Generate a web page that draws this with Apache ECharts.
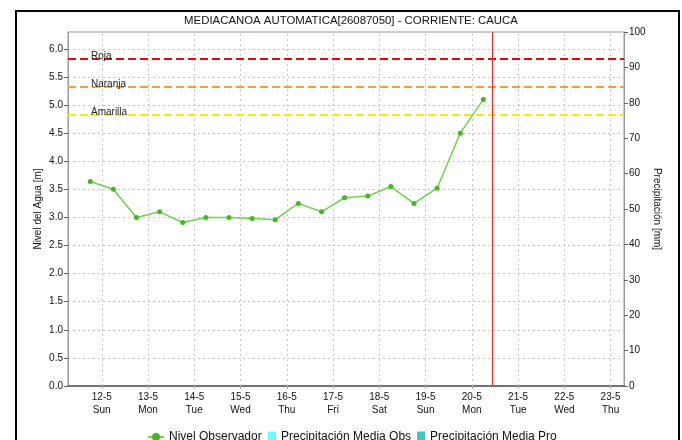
<!DOCTYPE html>
<html>
<head>
<meta charset="utf-8">
<script src="https://cdn.jsdelivr.net/npm/echarts@6/dist/echarts.min.js"></script>
<style>
  html, body { margin: 0; padding: 0; background: #fff; }
  #chart { width: 682px; height: 440px; }
</style>
</head>
<body>
<div id="chart"></div>
<script>
// Station readings: day of month + hour of each observation, water level in metres
const obsDay   = [11, 12, 12, 13, 13, 14, 14, 15, 15, 16, 16, 17, 17, 18, 18, 19, 19, 20];
const obsHour  = [18, 6, 18, 6, 18, 6, 18, 6, 18, 6, 18, 6, 18, 6, 18, 6, 18, 6];
const obsLevel = [3.64, 3.50, 3.00, 3.10, 2.91, 3.00, 3.00, 2.98, 2.96, 3.25,
                  3.10, 3.35, 3.38, 3.55, 3.25, 3.52, 4.50, 5.10];

// Precipitation (mm) — no records in this period
const precipObs = [];
const precipPro = [];

// Alert thresholds (m)
const alertNames  = ['Roja', 'Naranja', 'Amarilla'];
const alertLevels = [5.82, 5.32, 4.82];
const alertColors = ['#ff0000', '#ff9a2e', '#f2f200'];

// Date axis labels
const tickDays  = [12, 13, 14, 15, 16, 17, 18, 19, 20, 21, 22, 23];
const tickDates = ['12-5', '13-5', '14-5', '15-5', '16-5', '17-5', '18-5', '19-5', '20-5', '21-5', '22-5', '23-5'];
const tickWeek  = ['Sun', 'Mon', 'Tue', 'Wed', 'Thu', 'Fri', 'Sat', 'Sun', 'Mon', 'Tue', 'Wed', 'Thu'];

// Current time marker (20-5, ~10:50)
const nowDay = 20.45;

const FONT = 'Liberation Sans, Arial, sans-serif';
const levelData = obsDay.map((d, i) => [d + obsHour[i] / 24, obsLevel[i]]);

const chart = echarts.init(document.getElementById('chart'), null, { renderer: 'canvas' });

const thresholdLines = alertLevels.map((v, i) => ({
  yAxis: v,
  lineStyle: { color: alertColors[i], type: [8, 4], width: 2 },
  label: {
    show: true,
    position: 'insideStartTop',
    formatter: alertNames[i],
    color: '#222',
    fontFamily: FONT,
    fontSize: 10,
    distance: [23, -2]
  }
}));

chart.setOption({
  animation: false,
  backgroundColor: '#fff',
  title: {
    text: 'MEDIACANOA AUTOMATICA[26087050] - CORRIENTE: CAUCA',
    left: 346,
    textAlign: 'center',
    top: 10,
    textStyle: { fontFamily: FONT, fontSize: 11.4, fontWeight: 'normal', color: '#111' }
  },
  graphic: [{
    type: 'rect',
    shape: { x: 16, y: 11, width: 663, height: 450 },
    style: { fill: 'none', stroke: '#000', lineWidth: 2 },
    silent: true,
    z: 100
  }],
  legend: [{
    left: 147,
    top: 431,
    padding: 0,
    itemWidth: 16,
    itemHeight: 10,
    itemGap: 6,
    itemTextGap: 2,
    data: ['Nivel Observador'],
    textStyle: { fontFamily: FONT, fontSize: 12, color: '#111' }
  }, {
    left: 268,
    top: 431,
    padding: 0,
    itemWidth: 8,
    itemHeight: 11,
    itemGap: 6,
    itemTextGap: 1,
    icon: 'rect',
    data: ['Precipitación Media Obs', 'Precipitación Media Pro'],
    textStyle: { fontFamily: FONT, fontSize: 12, color: '#111' }
  }],
  grid: {
    left: 68, right: 58, top: 32, bottom: 54,
    show: true, borderColor: '#999', borderWidth: 1, backgroundColor: '#fff'
  },
  xAxis: {
    type: 'value',
    min: 11.27,
    max: 23.29,
    axisLine: { show: true, lineStyle: { color: '#555', width: 1.5 } },
    axisTick: { show: true, customValues: tickDays, length: 3, lineStyle: { color: '#aaa' } },
    axisLabel: {
      customValues: tickDays,
      fontFamily: FONT, fontSize: 10, color: '#111', lineHeight: 13, margin: 5,
      formatter: v => {
        const i = tickDays.indexOf(Math.round(v));
        return i < 0 ? '' : tickDates[i] + '\n' + tickWeek[i];
      }
    },
    splitLine: { show: false }
  },
  yAxis: [{
    type: 'value',
    min: 0, max: 6.3, interval: 0.5,
    name: 'Nivel del Agua [m]',
    nameLocation: 'middle',
    nameGap: 25,
    nameMoveOverlap: false,
    nameTextStyle: { fontFamily: FONT, fontSize: 10, color: '#111' },
    axisLine: { show: true, lineStyle: { color: '#999' } },
    axisTick: { show: true, length: 4, lineStyle: { color: '#666' } },
    axisLabel: {
      fontFamily: FONT, fontSize: 10, color: '#111', margin: 5,
      showMaxLabel: false,
      formatter: v => v.toFixed(1)
    },
    splitLine: { show: true, lineStyle: { color: '#c8c8c8', type: [2, 3] } }
  }, {
    type: 'value',
    position: 'right',
    min: 0, max: 100, interval: 10,
    name: 'Precipitación [mm]',
    nameLocation: 'middle',
    nameRotate: -90,
    nameGap: 28,
    nameMoveOverlap: false,
    nameTextStyle: { fontFamily: FONT, fontSize: 10, color: '#111' },
    axisLine: { show: true, lineStyle: { color: '#999' } },
    axisTick: { show: true, length: 4, lineStyle: { color: '#666' } },
    axisLabel: { fontFamily: FONT, fontSize: 10, color: '#111', margin: 5 },
    splitLine: { show: false }
  }],
  series: [{
    name: 'Nivel Observador',
    type: 'line',
    yAxisIndex: 0,
    data: levelData,
    symbol: 'circle',
    symbolSize: 5,
    itemStyle: { color: '#3dbb1f' },
    lineStyle: { color: '#72d24e', width: 1.5 },
    z: 5,
    markLine: {
      silent: true,
      symbol: 'none',
      animation: false,
      data: [
        // daily vertical grid
        ...tickDays.map(d => ({
          xAxis: d,
          lineStyle: { color: '#c8c8c8', type: [2, 3], width: 1 },
          label: { show: false }
        })),
        ...thresholdLines,
        {
          xAxis: nowDay,
          lineStyle: { color: '#ff2020', type: 'solid', width: 1 },
          label: { show: false }
        }
      ]
    }
  }, {
    name: 'Precipitación Media Obs',
    type: 'bar',
    yAxisIndex: 1,
    data: precipObs,
    itemStyle: { color: '#66ffff' }
  }, {
    name: 'Precipitación Media Pro',
    type: 'bar',
    yAxisIndex: 1,
    data: precipPro,
    itemStyle: { color: '#40c4c4' }
  }]
});
</script>
</body>
</html>
